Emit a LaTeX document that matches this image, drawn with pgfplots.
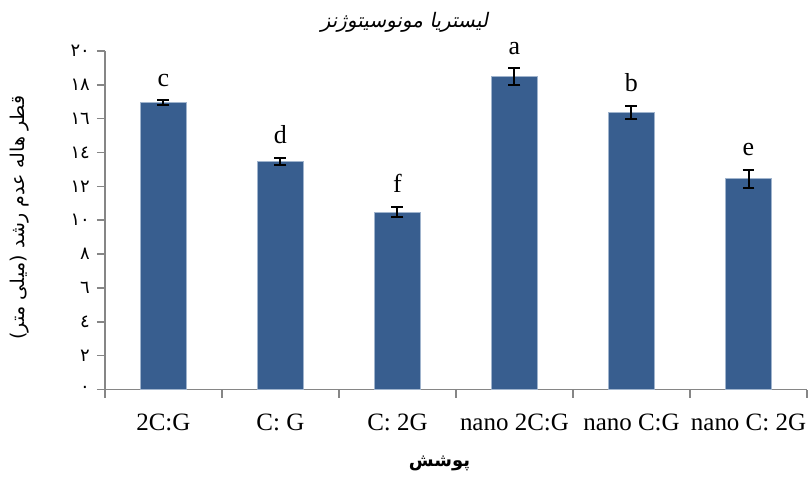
\documentclass[border=0pt]{standalone}
\usepackage{fontspec}
\usepackage{pgfplots}
\pgfplotsset{compat=1.18}
\usepackage{pgfplotstable}
\setmainfont{Liberation Serif}
\newfontfamily\arabicfont[Script=Arabic]{DejaVu Sans}
\newfontfamily\arabicit[Script=Arabic,FakeSlant=0.2]{DejaVu Sans}
\TeXXeTstate=1
\definecolor{barblue}{RGB}{56,94,143}
\definecolor{baredge}{RGB}{160,180,205}
\definecolor{axgray}{RGB}{134,134,134}

\pgfplotstableread{
x y err lab
0 16.93 0.15 c
1 13.47 0.22 d
2 10.48 0.30 f
3 18.47 0.50 a
4 16.36 0.40 b
5 12.45 0.54 e
}\data

\begin{document}
\begin{tikzpicture}
\begin{axis}[
  scale only axis, width=351.5pt, height=169.5pt,
  xmin=-0.5, xmax=5.5, ymin=0, ymax=20,
  axis x line*=bottom, axis y line*=left,
  axis line style={axgray, line width=0.8pt},
  tick style={axgray, line width=0.8pt},
  tick align=outside,
  major tick length=4pt, minor tick length=4pt,
  ytick={0,2,...,20},
  yticklabels={{\arabicfont ٠},{\arabicfont ٢},{\arabicfont ٤},{\arabicfont ٦},{\arabicfont ٨},{\arabicfont ١٠},{\arabicfont ١٢},{\arabicfont ١٤},{\arabicfont ١٦},{\arabicfont ١٨},{\arabicfont ٢٠}},
  yticklabel style={font=\fontsize{9}{10}\selectfont},
  xtick={0,...,5},
  xticklabels={2C:G, C: G, C: 2G, nano 2C:G, nano C:G, nano C: 2G},
  xticklabel style={font=\fontsize{12.5}{14}\selectfont, yshift=-4.5pt},
  major x tick style={draw=none},
  minor xtick={-0.5,0.5,...,5.5},
  clip=false,
]
\addplot[ybar, bar width=0.39, fill=barblue, draw=baredge, line width=0.4pt,
  error bars/.cd, y dir=both, y explicit,
  error bar style={black, line width=1pt},
  error mark options={rotate=90, mark size=3pt, line width=1pt, black}]
  table[x=x, y=y, y error=err]{\data};
\addplot[draw=none, mark=none, nodes near coords, point meta=explicit symbolic,
  nodes near coords style={anchor=south, font=\fontsize{13}{15}\selectfont, yshift=3.5pt, text=black}]
  table[x=x, y expr=\thisrow{y}+\thisrow{err}, meta=lab]{\data};
\coordinate (bl) at (rel axis cs:0,0);
\coordinate (tr) at (rel axis cs:1,1);
\end{axis}
\node at ([xshift=150pt,yshift=184pt]bl) {\arabicit\fontsize{10}{12}\selectfont\beginR لیستریا مونوسیتوژنز\endR};
\node at ([xshift=167.5pt,yshift=-37pt]bl) {\arabicfont\bfseries\fontsize{9}{11}\selectfont\beginR پوشش\endR};
\node[rotate=90] at ([xshift=-42.5pt,yshift=86pt]bl) {\arabicfont\fontsize{9.5}{12}\selectfont\beginR قطر هاله عدم رشد (میلی متر)\endR};
\pgfresetboundingbox
\path ([xshift=-52.5pt,yshift=-44pt]bl) rectangle ([xshift=1.5pt,yshift=25.5pt]tr);
\end{tikzpicture}
\end{document}
